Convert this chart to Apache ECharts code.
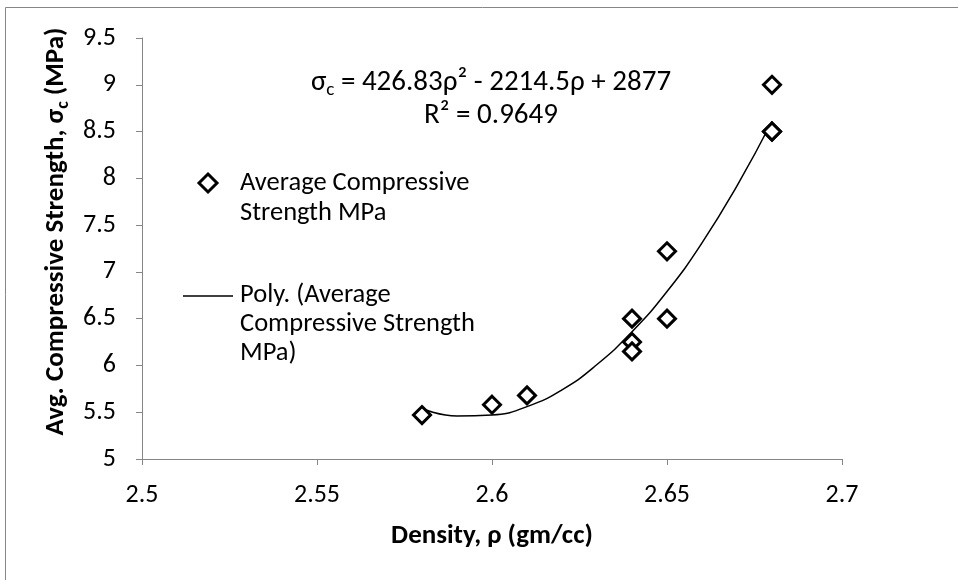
<!DOCTYPE html>
<html>
<head>
<meta charset="utf-8">
<title>Density vs compressive strength</title>
<script src="https://cdn.jsdelivr.net/npm/echarts@6/dist/echarts.min.js"></script>
<style>
  html, body { margin: 0; padding: 0; background: #fff; }
  #main { width: 958px; height: 580px; }
</style>
</head>
<body>
<div id="main"></div>
<script>
// measured points
const density = [2.58, 2.60, 2.61, 2.64, 2.64, 2.64, 2.65, 2.65, 2.68, 2.68, 2.68]
const strength = [5.47, 5.58, 5.68, 6.50, 6.25, 6.15, 6.50, 7.22, 9.0, 8.5, 8.5]

// poly trendline
const trendDensity = [2.58, 2.59, 2.60, 2.61, 2.62, 2.63, 2.64, 2.65, 2.66, 2.67, 2.68]
const trendStrength = [5.54, 5.46, 5.47, 5.56, 5.74, 6.01, 6.36, 6.79, 7.31, 7.92, 8.61]

const xTickLabels = ['2.5', '2.55', '2.6', '2.65', '2.7']
const yTickLabels = ['5', '5.5', '6', '6.5', '7', '7.5', '8', '8.5', '9', '9.5']

const FONT = 'Carlito, Lato, sans-serif'
const AXIS_GREY = '#868686'

const chart = echarts.init(document.getElementById('main'), null, { renderer: 'canvas' })

const axisCommon = {
  type: 'value',
  nameLocation: 'middle',
  axisLine: { show: true, lineStyle: { color: AXIS_GREY, width: 1 } },
  axisTick: { show: true, inside: false, length: 6, lineStyle: { color: AXIS_GREY } },
  splitLine: { show: false },
}

const option = {
  backgroundColor: '#fff',
  animation: false,
  grid: { left: 142, right: 116, top: 38, bottom: 121 },
  xAxis: {
    ...axisCommon,
    min: Number(xTickLabels[0]),
    max: Number(xTickLabels[xTickLabels.length - 1]),
    interval: Number((xTickLabels[1] - xTickLabels[0]).toFixed(2)),
    name: 'Density, ρ (gm/cc)',
    nameGap: 64,
    nameTextStyle: { fontFamily: FONT, fontSize: 27, fontWeight: 'bold', color: '#000' },
    axisLabel: {
      margin: 23,
      fontFamily: FONT,
      fontSize: 26,
      color: '#000',
      formatter: (v) => xTickLabels.find((t) => Math.abs(Number(t) - v) < 1e-6) || '',
    },
  },
  yAxis: {
    ...axisCommon,
    min: Number(yTickLabels[0]),
    max: Number(yTickLabels[yTickLabels.length - 1]),
    interval: Number(yTickLabels[1]) - Number(yTickLabels[0]),
    name: '{b|Avg. Compressive Strength, σ}{sub|c}{b| (MPa)}',
    nameGap: 62,
    nameTextStyle: {
      fontFamily: FONT,
      fontSize: 27,
      fontWeight: 'bold',
      color: '#000',
      padding: [0, 0, 0, 34],
      rich: {
        b: { fontFamily: FONT, fontSize: 27, fontWeight: 'bold', color: '#000' },
        sub: { fontFamily: FONT, fontSize: 18, fontWeight: 'bold', color: '#000', padding: [13, 0, 0, 0] },
      },
    },
    axisLabel: {
      margin: 26,
      fontFamily: FONT,
      fontSize: 26,
      color: '#000',
      formatter: (v) => yTickLabels.find((t) => Math.abs(Number(t) - v) < 1e-6) || '',
    },
  },
  graphic: [
    // chart area border (cropped on right and bottom)
    {
      type: 'rect',
      shape: { x: 5.5, y: 7.5, width: 1200, height: 1200 },
      style: { fill: 'none', stroke: AXIS_GREY, lineWidth: 1 },
      silent: true,
    },
    // trendline equation
    {
      type: 'text',
      x: 491,
      y: 83,
      style: {
        text: '{n|σ}{sub|c}{n| = 426.83ρ² - 2214.5ρ + 2877}',
        align: 'center',
        verticalAlign: 'middle',
        rich: {
          n: { fontFamily: FONT, fontSize: 29, fill: '#000' },
          sub: { fontFamily: FONT, fontSize: 19, fill: '#000', padding: [14, 0, 0, 0] },
        },
      },
    },
    {
      type: 'text',
      x: 491,
      y: 116,
      style: {
        text: 'R² = 0.9649',
        align: 'center',
        verticalAlign: 'middle',
        font: '29px ' + FONT,
        fill: '#000',
      },
    },
    // legend: markers
    {
      type: 'polygon',
      shape: { points: [[208, 174], [217, 183], [208, 192], [199, 183]] },
      style: { fill: '#fff', stroke: '#000', lineWidth: 3 },
    },
    {
      type: 'text',
      x: 240,
      y: 168,
      style: {
        text: 'Average Compressive\nStrength MPa',
        font: '26.5px ' + FONT,
        lineHeight: 30,
        fill: '#000',
        verticalAlign: 'top',
      },
    },
    {
      type: 'line',
      shape: { x1: 183, y1: 296, x2: 233, y2: 296 },
      style: { stroke: '#000', lineWidth: 1.5 },
    },
    {
      type: 'text',
      x: 240,
      y: 281,
      style: {
        text: 'Poly. (Average\nCompressive Strength\nMPa)',
        font: '26.5px ' + FONT,
        lineHeight: 29,
        fill: '#000',
        verticalAlign: 'top',
      },
    },
  ],
  series: [
    {
      name: 'Poly. (Average Compressive Strength MPa)',
      type: 'line',
      data: trendDensity.map((d, i) => [d, trendStrength[i]]),
      smooth: true,
      showSymbol: false,
      lineStyle: { color: '#000', width: 1.5 },
      z: 2,
    },
    {
      name: 'Average Compressive Strength MPa',
      type: 'scatter',
      data: density.map((d, i) => [d, strength[i]]),
      symbol: 'diamond',
      symbolSize: 17,
      itemStyle: { color: '#fff', borderColor: '#000', borderWidth: 3, opacity: 1 },
      z: 3,
    },
  ],
}

chart.setOption(option)
</script>
</body>
</html>
